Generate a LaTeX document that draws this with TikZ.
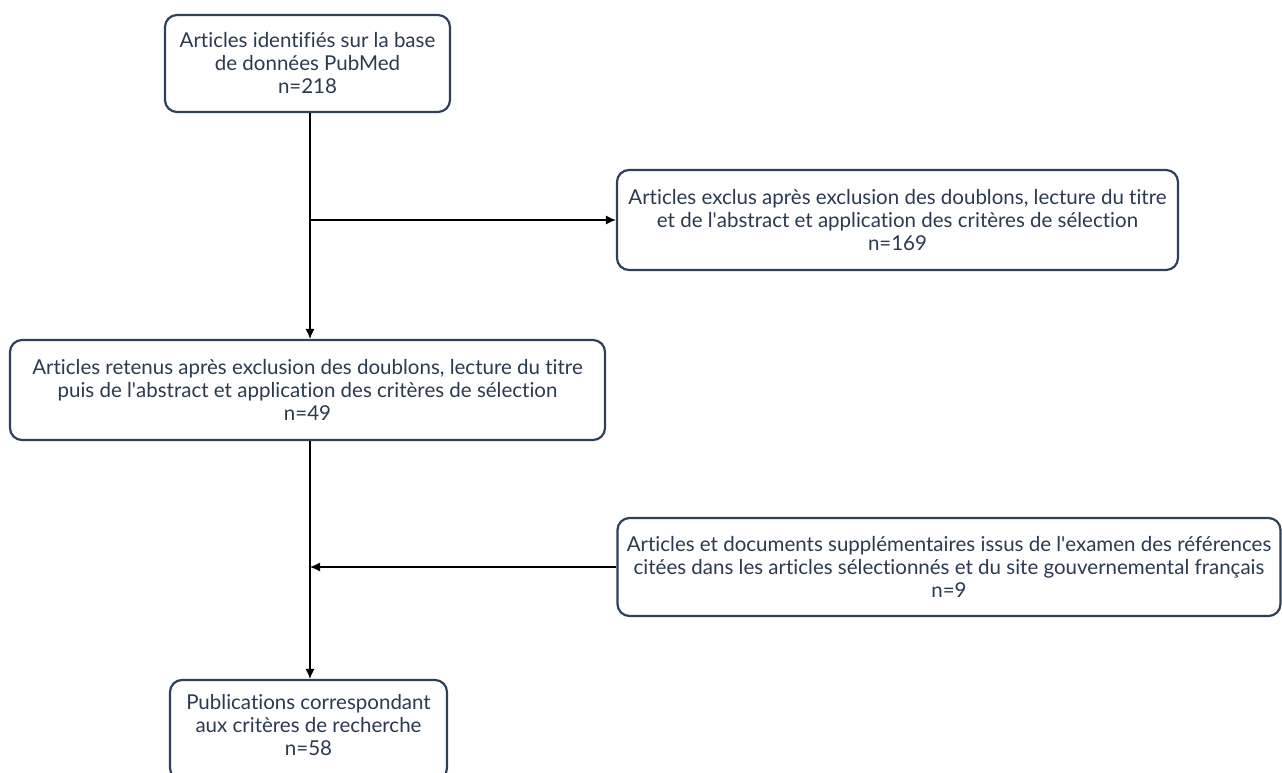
\documentclass[tikz,border=0pt]{standalone}
\usepackage{fontspec}
\setmainfont[Ligatures={NoCommon}]{Lato}
\usetikzlibrary{arrows.meta}
\definecolor{boxc}{HTML}{2E4157}
\definecolor{txtc}{HTML}{2B3A4F}
\newcommand{\apos}{\textquotesingle}
\begin{document}
\begin{tikzpicture}[x=1pt,y=-1pt,
  box/.style={draw=boxc,line width=2.2pt,rounded corners=12pt,fill=white,inner sep=0pt},
  lbl/.style={text=txtc,font=\fontsize{20.5}{23}\selectfont,align=center},
  arr/.style={line width=1.1pt,-{Latex[length=10pt,width=9pt]}}]
\useasboundingbox (0,0) rectangle (1282,773);
\fill[white] (0,0) rectangle (1282,773);
\begin{scope}
\clip (0,0) rectangle (1282,773);
\node[box,minimum width=285pt,minimum height=97pt] (b1) at (307.5,63.5) {};
\node[lbl] (t1) at (b1.center) {Articles identifiés sur la base\\de données PubMed\\n=218};
\node[box,minimum width=561pt,minimum height=100pt] (b2) at (897.5,220) {};
\node[lbl] (t2) at (b2.center) {Articles exclus après exclusion des doublons, lecture du titre\\et de l\apos abstract et application des critères de sélection\\n=169};
\node[box,minimum width=595pt,minimum height=100pt] (b3) at (307.5,390) {};
\node[lbl] (t3) at (b3.center) {Articles retenus après exclusion des doublons, lecture du titre\\puis de l\apos abstract et application des critères de sélection\\n=49};
\node[box,minimum width=663pt,minimum height=98pt] (b4) at (949,567) {};
\node[lbl] (t4) at (b4.center) {Articles et documents supplémentaires issus de l\apos examen des références\\citées dans les articles sélectionnés et du site gouvernemental français\\n=9};
\node[box,minimum width=277pt,minimum height=100pt] (b5) at (308.5,730) {};
\node[lbl] (t5) at (308.5,725) {Publications correspondant\\aux critères de recherche\\n=58};
\end{scope}
\coordinate (j1) at (310,220);
\coordinate (j2) at (310,567);
\draw[arr] (b1.south -| j1) -- (b3.north -| j1);
\draw[arr] (j1) -- (b2.west);
\draw[arr] (b3.south -| j2) -- (b5.north -| j2);
\draw[arr] (b4.west) -- (j2);
\end{tikzpicture}
\end{document}
